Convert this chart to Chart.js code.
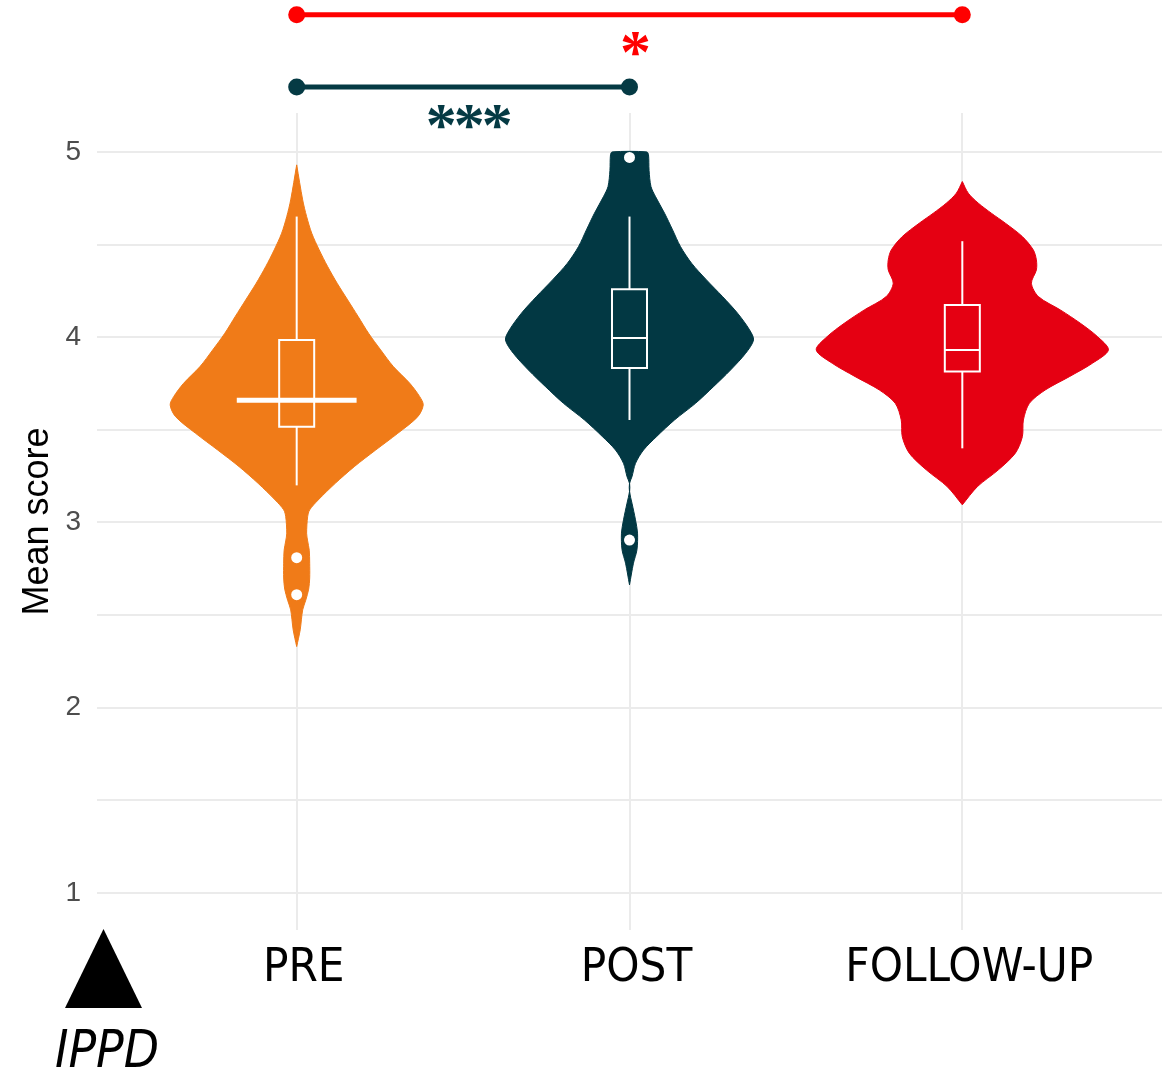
<!DOCTYPE html>
<html>
<head>
<meta charset="utf-8">
<title>Mean score by time point</title>
<script src="https://cdn.jsdelivr.net/npm/chart.js@4/dist/chart.umd.min.js"></script>
<style>
  html, body { margin: 0; padding: 0; background: #ffffff; }
  #wrap { width: 1174px; height: 1071px; }
</style>
</head>
<body>
<div id="wrap"><canvas id="chart" width="1174" height="1071"></canvas></div>
<script>
// ---- Groups ----
const categories = ['PRE', 'POST', 'FOLLOW-UP'];
const groupColors = ['#f07b18', '#023843', '#e50012'];

// ---- Violin outlines: score levels and relative half-width of the density (1 = widest) ----
const preLevels  = [2.33, 2.42, 2.528, 2.58, 2.64, 2.70, 2.78, 2.85, 2.90, 2.942, 3.031, 3.068, 3.121, 3.211, 3.301, 3.391, 3.481, 3.571, 3.634, 3.679, 3.751, 3.841, 3.931, 4.021, 4.111, 4.201, 4.291, 4.381, 4.471, 4.561, 4.651, 4.741, 4.93];
const preDensity = [0, 0.024, 0.041, 0.062, 0.082, 0.089, 0.089, 0.086, 0.075, 0.068, 0.075, 0.089, 0.147, 0.264, 0.394, 0.541, 0.692, 0.829, 0.866, 0.842, 0.774, 0.662, 0.575, 0.492, 0.421, 0.349, 0.277, 0.212, 0.154, 0.103, 0.068, 0.041, 0];

const postLevels  = [2.663, 2.78, 2.852, 2.942, 3.014, 3.104, 3.166, 3.211, 3.247, 3.319, 3.391, 3.463, 3.553, 3.643, 3.733, 3.823, 3.913, 3.985, 4.039, 4.129, 4.219, 4.309, 4.399, 4.489, 4.579, 4.669, 4.759, 4.813, 4.90, 4.985, 5.00];
const postDensity = [0, 0.027, 0.051, 0.055, 0.041, 0.017, 0, 0, 0.017, 0.041, 0.096, 0.185, 0.308, 0.452, 0.575, 0.692, 0.795, 0.849, 0.822, 0.740, 0.637, 0.527, 0.425, 0.349, 0.295, 0.240, 0.178, 0.147, 0.134, 0.130, 0.118];

const followLevels  = [3.095, 3.193, 3.284, 3.374, 3.463, 3.553, 3.643, 3.715, 3.787, 3.859, 3.931, 4.003, 4.075, 4.147, 4.219, 4.291, 4.363, 4.417, 4.471, 4.543, 4.615, 4.669, 4.723, 4.777, 4.84];
const followDensity = [0, 0.103, 0.247, 0.363, 0.411, 0.418, 0.459, 0.568, 0.733, 0.890, 1, 0.925, 0.808, 0.671, 0.521, 0.473, 0.507, 0.507, 0.486, 0.411, 0.295, 0.199, 0.110, 0.041, 0];

// ---- Box-plot summaries ----
const whiskerLow  = [3.20, 3.553, 3.40];
const quartile1   = [3.516, 3.833, 3.815];
const medians     = [3.66, 3.995, 3.931];
const quartile3   = [3.985, 4.259, 4.174];
const whiskerHigh = [4.651, 4.651, 4.518];
const outliers    = [[2.81, 2.61], [4.97, 2.905], []];

// ---- Pairwise comparisons ----
const comparisonFrom  = ['PRE', 'PRE'];
const comparisonTo    = ['FOLLOW-UP', 'POST'];
const comparisonLabel = ['*', '***'];

// ---- Axis ticks ----
const yTickValues = [1, 1.5, 2, 2.5, 3, 3.5, 4, 4.5, 5];

// ---- Styling ----
const comparisonColors = ['#ff0000', '#053a44'];
const bracketLevels = [5.74, 5.35];          // heights of the comparison brackets (score units)
const VIOLIN_HALF = 0.439;                   // half-width of the widest violin, x units
const BOX_HALF = 0.0526;                     // half-width of the boxes, x units
const medianHalfWidth = [0.18, BOX_HALF, BOX_HALF];
const medianLineWidth = [5, 2, 2];
const GRID = '#ebebeb';
const STAR_FONT = '"Liberation Serif"';
const STAR_INK = 23.5;    // glyph height of the significance stars, px
const STAR_STEP = 28;     // distance between neighbouring stars, px
const STAR_DROP = 29.5;   // star centre below its bracket, px
const STAR_NUDGE = 6;     // stars sit slightly right of the bracket midpoint, px

const violinLevels = [preLevels, postLevels, followLevels];
const violinDensity = [preDensity, postDensity, followDensity];

function violinOutline(i) {
  const c = i + 1;
  const lv = violinLevels[i], d = violinDensity[i];
  const right = lv.map((v, k) => ({ x: c + d[k] * VIOLIN_HALF, y: v }));
  const left = lv.map((v, k) => ({ x: c - d[k] * VIOLIN_HALF, y: v })).reverse();
  return right.concat(left);
}

const datasets = [];

// violins
categories.forEach((_, i) => {
  datasets.push({
    data: violinOutline(i),
    backgroundColor: groupColors[i],
    borderColor: groupColors[i],
    borderWidth: 1,
    fill: 'shape',
    pointRadius: 0,
    tension: 0.3,
    order: 10
  });
});

// boxes, whiskers, medians
const whiteLine = { borderColor: '#ffffff', borderWidth: 2, fill: false, pointRadius: 0, tension: 0, order: 5 };
categories.forEach((_, i) => {
  const c = i + 1;
  datasets.push(Object.assign({}, whiteLine, {
    borderJoinStyle: 'miter',
    borderCapStyle: 'square',
    data: [
      { x: c - BOX_HALF, y: quartile1[i] }, { x: c + BOX_HALF, y: quartile1[i] },
      { x: c + BOX_HALF, y: quartile3[i] }, { x: c - BOX_HALF, y: quartile3[i] },
      { x: c - BOX_HALF, y: quartile1[i] }
    ]
  }));
  datasets.push(Object.assign({}, whiteLine, { data: [{ x: c, y: whiskerLow[i] }, { x: c, y: quartile1[i] }] }));
  datasets.push(Object.assign({}, whiteLine, { data: [{ x: c, y: quartile3[i] }, { x: c, y: whiskerHigh[i] }] }));
  datasets.push(Object.assign({}, whiteLine, {
    borderWidth: medianLineWidth[i],
    data: [{ x: c - medianHalfWidth[i], y: medians[i] }, { x: c + medianHalfWidth[i], y: medians[i] }]
  }));
});

// outlying observations
datasets.push({
  data: outliers.flatMap((vals, i) => vals.map(v => ({ x: i + 1, y: v }))),
  showLine: false,
  pointRadius: 5.5,
  pointBackgroundColor: '#ffffff',
  pointBorderWidth: 0,
  order: 1
});

// comparison brackets
const comparisonStart = datasets.length;
comparisonFrom.forEach((from, k) => {
  const a = categories.indexOf(from) + 1;
  const b = categories.indexOf(comparisonTo[k]) + 1;
  datasets.push({
    data: [{ x: a, y: bracketLevels[k] }, { x: b, y: bracketLevels[k] }],
    borderColor: comparisonColors[k],
    borderWidth: 5,
    pointRadius: 0,
    fill: false,
    clip: false,
    order: 0
  });
});

// endpoint dots and significance stars above the plot
const annotations = {
  id: 'annotations',
  afterDatasetsDraw(chart) {
    const ctx = chart.ctx;
    comparisonFrom.forEach((_, k) => {
      const pts = chart.getDatasetMeta(comparisonStart + k).data;
      ctx.save();
      ctx.fillStyle = comparisonColors[k];
      pts.forEach(p => {
        ctx.beginPath();
        ctx.arc(p.x, p.y, 8.5, 0, Math.PI * 2);
        ctx.fill();
      });
      ctx.font = `bold 100px ${STAR_FONT}`;
      let m = ctx.measureText('*');
      const size = 100 * STAR_INK / (m.actualBoundingBoxAscent + m.actualBoundingBoxDescent);
      ctx.font = `bold ${size}px ${STAR_FONT}`;
      m = ctx.measureText('*');
      const cy = pts[0].y + STAR_DROP;
      const baseline = cy - (m.actualBoundingBoxDescent - m.actualBoundingBoxAscent) / 2;
      const cx = (pts[0].x + pts[1].x) / 2 + STAR_NUDGE;
      const chars = comparisonLabel[k].split('');
      ctx.textAlign = 'center';
      ctx.textBaseline = 'alphabetic';
      chars.forEach((ch, j) => {
        ctx.fillText(ch, cx + (j - (chars.length - 1) / 2) * STAR_STEP, baseline);
      });
      ctx.restore();
    });
  },
  afterDraw(chart) {
    const ctx = chart.ctx;
    ctx.save();
    // marker and scale name in the lower left corner
    ctx.fillStyle = '#000000';
    ctx.beginPath();
    ctx.moveTo(65, 1008);
    ctx.lineTo(142, 1008);
    ctx.lineTo(103.5, 929);
    ctx.closePath();
    ctx.fill();
    ctx.font = 'italic 51px "DejaVu Sans Condensed", "DejaVu Sans"';
    ctx.textAlign = 'center';
    ctx.textBaseline = 'alphabetic';
    ctx.fillText('IPPD', 107, 1067);
    ctx.restore();
  }
};

new Chart(document.getElementById('chart'), {
  type: 'line',
  data: { datasets },
  plugins: [annotations],
  options: {
    responsive: false,
    devicePixelRatio: 1,
    animation: false,
    events: [],
    layout: { padding: { top: 113, right: 12, bottom: 0, left: 0 } },
    plugins: {
      legend: { display: false },
      tooltip: { enabled: false }
    },
    scales: {
      x: {
        type: 'linear',
        min: 0.4,
        max: 3.6,
        afterBuildTicks: scale => { scale.ticks = categories.map((_, i) => ({ value: i + 1 })); },
        afterFit: scale => { scale.height = 141; },
        grid: { color: GRID, lineWidth: 2, drawTicks: false },
        border: { display: false },
        ticks: {
          autoSkip: false,
          maxRotation: 0,
          padding: 11,
          labelOffset: 7,
          color: '#000000',
          font: { family: '"DejaVu Sans Condensed", "DejaVu Sans"', size: 47 },
          callback: v => categories[v - 1] ?? ''
        }
      },
      y: {
        type: 'linear',
        min: 0.8,
        max: 5.21,
        afterBuildTicks: scale => { scale.ticks = yTickValues.map(v => ({ value: v })); },
        afterFit: scale => { scale.width = 97; },
        grid: { color: GRID, lineWidth: 2, drawTicks: false },
        border: { display: false },
        ticks: {
          padding: 16,
          color: '#4d4d4d',
          font: { family: '"Liberation Sans", Arial', size: 28 },
          callback: v => Number.isInteger(v) ? String(v) : ''
        },
        title: {
          display: true,
          text: 'Mean score',
          color: '#000000',
          padding: { top: 16, bottom: 0 },
          font: { family: '"Liberation Sans", Arial', size: 36 }
        }
      }
    }
  }
});
</script>
</body>
</html>
